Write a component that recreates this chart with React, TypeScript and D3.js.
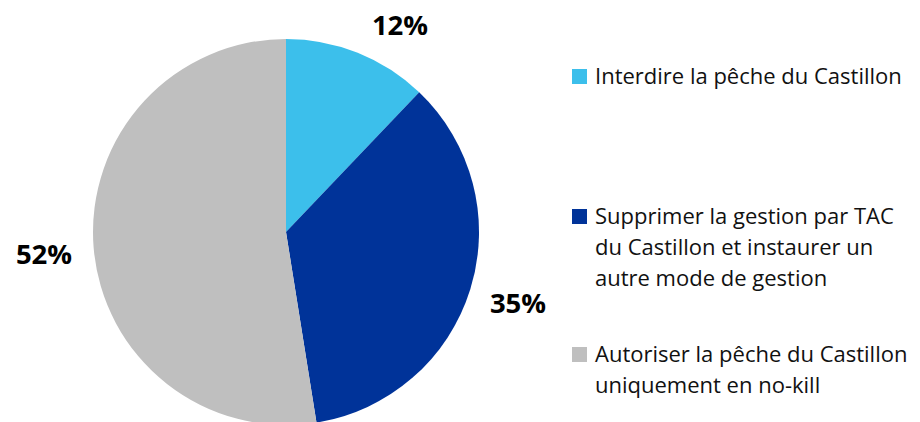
import React from "react";
import * as d3 from "d3";

const categories = [
  "Interdire la pêche du Castillon",
  "Supprimer la gestion par TAC du Castillon et instaurer un autre mode de gestion",
  "Autoriser la pêche du Castillon uniquement en no-kill",
];
const values = [12, 35, 52];
const legendLines = [
  ["Interdire la pêche du Castillon"],
  ["Supprimer la gestion par TAC", "du Castillon et instaurer un", "autre mode de gestion"],
  ["Autoriser la pêche du Castillon", "uniquement en no-kill"],
];
const colors = ["#3CBFEB", "#003399", "#BFBFBF"];

const W = 920;
const H = 422;
const cx = 286;
const cy = 232;
const R = 193;
const labelPos = [
  [400, 24],
  [518, 302],
  [44, 253],
];
const legendX = 572;
const legendY = [69, 209, 347];

export default function App() {
  const pie = d3.pie<number>().sort(null).value((d) => d)(values);
  const arc = d3.arc<d3.PieArcDatum<number>>().innerRadius(0).outerRadius(R);
  const font = "'Open Sans', 'DejaVu Sans', sans-serif";
  return (
    <svg
      width={W}
      height={H}
      style={{ position: "fixed", left: 0, top: 0, background: "#fff" }}
      fontFamily={font}
    >
      <g transform={`translate(${cx},${cy})`}>
        {pie.map((p, i) => (
          <path key={i} d={arc(p) || ""} fill={colors[i]} />
        ))}
      </g>
      {pie.map((p, i) => (
        <text
          key={i}
          x={labelPos[i][0]}
          y={labelPos[i][1]}
          textAnchor="middle"
          dominantBaseline="central"
          fontWeight="bold"
          fontSize={27.5}
          fill="#000"
        >
          {`${values[i]}%`}
        </text>
      ))}
      {categories.map((c, i) => (
        <g key={c}>
          <rect x={legendX} y={legendY[i]} width={15} height={15} fill={colors[i]} />
          <text x={legendX + 23} y={legendY[i] + 14.5} fontSize={22} fill="#111">
            {legendLines[i].map((l, j) => (
              <tspan key={j} x={legendX + 23} dy={j === 0 ? 0 : 31}>
                {l}
              </tspan>
            ))}
          </text>
        </g>
      ))}
    </svg>
  );
}
